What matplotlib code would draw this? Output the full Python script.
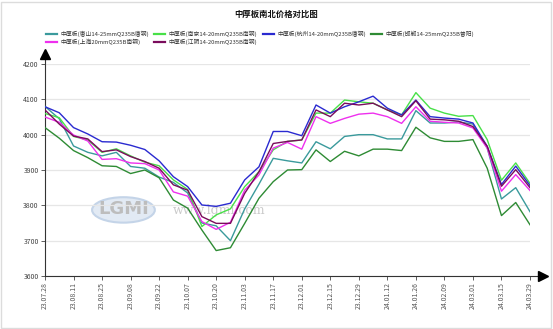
import matplotlib
matplotlib.use("Agg")
import matplotlib.pyplot as plt
from matplotlib.patches import Rectangle, Ellipse

plt.rcParams['font.family'] = ['Noto Sans CJK SC', 'DejaVu Sans']

title = "中厚板南北价格对比图"
tick_labels = ["23.07.28", "23.08.11", "23.08.25", "23.09.08", "23.09.22", "23.10.07",
               "23.10.20", "23.11.03", "23.11.17", "23.12.01", "23.12.15", "23.12.29",
               "24.01.12", "24.01.26", "24.02.09", "24.03.01", "24.03.15", "24.03.29"]

names = ["中厚板(唐山14-25mmQ235B唐钢)", "中厚板(南京14-20mmQ235B南钢)",
         "中厚板(杭州14-20mmQ235B唐钢)", "中厚板(邯郸14-25mmQ235B普阳)",
         "中厚板(上海20mmQ235B南钢)", "中厚板(江阴14-20mmQ235B南钢)"]
colors = ["#3a9a9c", "#48e048", "#2a2ad0", "#2e8b34", "#ee30ee", "#7a0c5c"]

tangshan = [4080, 4045, 3968, 3950, 3940, 3950, 3910, 3905, 3880, 3865, 3835, 3750, 3742, 3700,
            3790, 3860, 3933, 3926, 3920, 3980, 3960, 3995, 4000, 4000, 3988, 3988, 4068, 4033,
            4033, 4036, 4030, 3962, 3818, 3850, 3782]
nanjing = [4060, 4048, 3995, 3985, 3950, 3960, 3940, 3922, 3912, 3872, 3845, 3740, 3773, 3790,
           3853, 3895, 3957, 3981, 3985, 4061, 4061, 4098, 4093, 4089, 4070, 4056, 4119, 4075,
           4061, 4052, 4054, 3986, 3871, 3920, 3862]
hangzhou = [4079, 4062, 4020, 4002, 3980, 3979, 3970, 3958, 3926, 3881, 3853, 3801, 3797, 3806,
            3872, 3909, 4009, 4009, 3997, 4084, 4061, 4079, 4093, 4109, 4075, 4056, 4098, 4051,
            4047, 4044, 4033, 3967, 3859, 3911, 3856]
handan = [4020, 3990, 3955, 3935, 3912, 3910, 3890, 3900, 3878, 3815, 3792, 3730, 3672, 3680,
          3749, 3820, 3867, 3900, 3901, 3957, 3924, 3953, 3940, 3959, 3959, 3955, 4021, 3991,
          3981, 3981, 3986, 3905, 3771, 3808, 3745]
shanghai = [4050, 4035, 3999, 3982, 3930, 3932, 3920, 3918, 3900, 3838, 3826, 3754, 3732, 3752,
            3843, 3886, 3962, 3978, 3959, 4051, 4032, 4046, 4058, 4061, 4051, 4032, 4079, 4038,
            4035, 4033, 4019, 3962, 3840, 3887, 3842]
jiangyin = [4070, 4030, 3996, 3988, 3952, 3957, 3938, 3924, 3905, 3858, 3843, 3768, 3749, 3749,
            3834, 3895, 3975, 3981, 3985, 4070, 4051, 4089, 4084, 4089, 4070, 4051, 4096, 4044,
            4042, 4038, 4023, 3967, 3854, 3901, 3850]

series = [tangshan, nanjing, hangzhou, handan, shanghai, jiangyin]

W, H = 553, 329
fig = plt.figure(figsize=(W / 100, H / 100), dpi=100)
fig.patch.set_facecolor("white")
fig.add_artist(Rectangle((1 / W, 1 / H), 1 - 3 / W, 1 - 3 / H, transform=fig.transFigure,
                         fill=False, edgecolor="#dcdcdc", linewidth=1.0))

left, right, top, bottom = 45, 530, 64, 276
ax = fig.add_axes([left / W, 1 - bottom / H, (right - left) / W, (bottom - top) / H])

# watermark
ax.add_patch(Ellipse((5.5, 3787), 4.4, 72, facecolor="#e2eaf4", edgecolor="#c4d4e8",
                     linewidth=1.5, zorder=0))
ax.text(5.5, 3789, "LGMI", ha="center", va="center", fontsize=13, color="#bdbdbd",
        fontweight="bold", family="DejaVu Sans", zorder=0.5)
ax.text(8.97, 3784, "www.lgmi.com", ha="left", va="center", fontsize=9, color="#cacaca",
        family="DejaVu Serif", zorder=0.5)

x = list(range(len(tangshan)))
lines = []
for s, c, n in zip(series, colors, names):
    ln, = ax.plot(x, s, color=c, lw=1.0, label=n, zorder=3)
    lines.append(ln)

ax.set_xlim(0, len(x) - 1)
ax.set_ylim(3600, 4200)
ax.set_yticks([3600, 3700, 3800, 3900, 4000, 4100, 4200])
ax.set_xticks(list(range(0, len(x), 2)))
ax.set_xticklabels(tick_labels, rotation=90)
ax.tick_params(axis="both", labelsize=5, colors="#444444", length=3, width=0.6, pad=1.5)
ax.tick_params(axis="x", labelcolor="#555555")
ax.grid(axis="y", color="#e6e6e6", lw=0.9)
ax.set_axisbelow(True)
for sp in ax.spines.values():
    sp.set_visible(False)

ax.plot([0, 0], [0, 1.04], transform=ax.transAxes, color="#333333", lw=0.8, clip_on=False)
ax.plot([0, 1.02], [0, 0], transform=ax.transAxes, color="#333333", lw=0.8, clip_on=False)
ax.plot([0], [1.045], marker="^", color="black", markersize=7, transform=ax.transAxes,
        clip_on=False)
ax.plot([1.027], [0], marker=">", color="black", markersize=7, transform=ax.transAxes,
        clip_on=False)

fig.text(0.5, 1 - 14 / H, title, ha="center", va="center", fontsize=6, fontweight="bold",
         color="#111111")

order = [0, 4, 1, 5, 2, 3]
leg = fig.legend([lines[i] for i in order], [names[i] for i in order], ncol=4,
                 loc="center", bbox_to_anchor=(260 / W, 1 - 38 / H), fontsize=4.2, frameon=False,
                 handlelength=1.9, handletextpad=0.6, columnspacing=0.9, labelspacing=0.35)
for t in leg.get_texts():
    t.set_color("#333333")
for l in leg.get_lines():
    l.set_linewidth(1.6)

fig.savefig("out.png", dpi=100)
